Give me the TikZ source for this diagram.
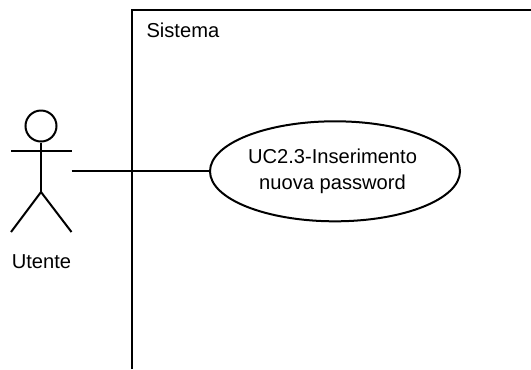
\documentclass[tikz,border=0pt]{standalone}
\usepackage{fontspec}
\setmainfont{Liberation Sans}
\usetikzlibrary{shapes,positioning}
\tikzset{uc/.style={draw,line width=1.5pt,ellipse,inner sep=0pt,minimum width=187.5pt,minimum height=75pt,align=center,font=\fontsize{15.1pt}{19.5pt}\selectfont},
label/.style={inner sep=0pt,font=\fontsize{15.1pt}{19pt}\selectfont}}
\begin{document}
\begin{tikzpicture}[x=0.75pt,y=-0.75pt,line width=1.5pt]
\useasboundingbox (0,0) rectangle (531,369);
\draw (132,369)--(132,10)--(531,10);
\node[label,anchor=west] (sistema) at (145.5,30) {Sistema};
\node[uc] (UC) at (335,171.3) {UC2.3-Inserimento\hspace*{3.75pt}\\nuova password\hspace*{3.75pt}};
\node[draw,circle,inner sep=0pt,minimum size=23.25pt,line width=1.5pt] (head) at (41,126) {};
\coordinate (hip) at (41,192);
\coordinate (armL) at (11,151.3);
\coordinate (armR) at (71.5,151.3);
\coordinate (legL) at (11,232);
\coordinate (legR) at (71.5,232);
\coordinate (hand) at (71.5,171.3);
\draw (head.south)--(hip);
\draw (armL)--(armR);
\draw (legL)--(hip)--(legR);
\draw (hand)--(UC.west);
\node[label] (utente) at (41.5,262) {Utente};
\end{tikzpicture}
\end{document}
